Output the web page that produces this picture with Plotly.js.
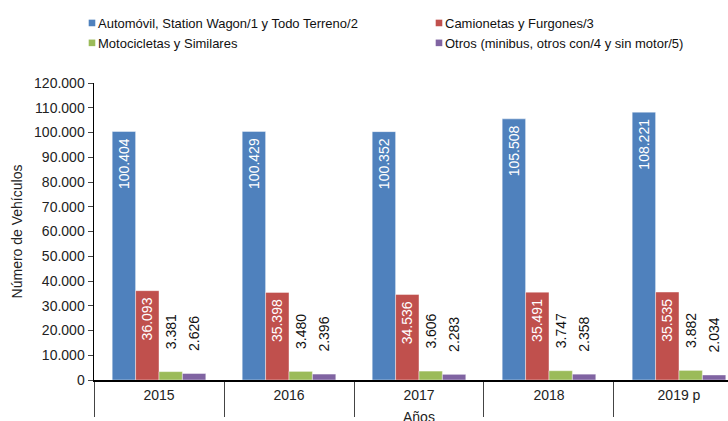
<!DOCTYPE html>
<html>
<head>
<meta charset="utf-8">
<script src="https://cdn.plot.ly/plotly-3.0.1.min.js"></script>
<style>html,body{margin:0;padding:0;background:#fff;}#chart{width:728px;height:421px;}</style>
</head>
<body>
<div id="chart"></div>
<script>
const years = ["2015", "2016", "2017", "2018", "2019 p"];
const seriesNames = [
  "Automóvil, Station Wagon/1 y Todo Terreno/2",
  "Camionetas y Furgones/3",
  "Motocicletas y Similares",
  "Otros (minibus, otros con/4 y sin motor/5)"
];
const xTitle = "Años";
const yTitle = "Número de Vehículos";
const autos = [100404, 100429, 100352, 105508, 108221];
const camionetas = [36093, 35398, 34536, 35491, 35535];
const motos = [3381, 3480, 3606, 3747, 3882];
const otros = [2626, 2396, 2283, 2358, 2034];
const colors = ["#4F81BD", "#C0504D", "#9BBB59", "#8064A2"];

const FONT = "Liberation Sans, Arial, sans-serif";
const pad = "\u00a0\u00a0\u00a0\u00a0\u00a0";

function bar(name, vals, color, inside, lw) {
  return {
    type: "bar", name: name, x: years, y: vals,
    marker: {color: color, line: {width: 0.6, color: "rgba(255,255,255,0.7)"}},
    texttemplate: inside ? "%{y:,}\u00a0" : pad + "%{y:,}",
    textposition: inside ? "inside" : "outside",
    insidetextanchor: "end",
    constraintext: "none",
    textangle: -90,
    cliponaxis: false,
    legendwidth: lw,
    textfont: {family: FONT, size: 14, color: inside ? "#ffffff" : "#111111"},
    hoverinfo: "skip"
  };
}

const data = [
  bar(seriesNames[0], autos, colors[0], true, 302),
  bar(seriesNames[1], camionetas, colors[1], true, 262),
  bar(seriesNames[2], motos, colors[2], false, 302),
  bar(seriesNames[3], otros, colors[3], false, 262)
];

const layout = {
  width: 728, height: 421,
  margin: {l: 94, r: 0, t: 83, b: 41},
  paper_bgcolor: "#fff", plot_bgcolor: "#fff",
  separators: ",.",
  font: {family: FONT, size: 14, color: "#222"},
  barmode: "group",
  bargap: 0.28, bargroupgap: 0,
  showlegend: true,
  legend: {
    orientation: "h", x: -0.0568, xanchor: "left", y: 1.2525, yanchor: "top",
    font: {family: FONT, size: 13, color: "#111"},
    traceorder: "normal"
  },
  annotations: [{
    text: xTitle, xref: "paper", yref: "paper", x: 0.5126, y: 0,
    xanchor: "center", yanchor: "middle", yshift: -37, showarrow: false,
    font: {family: FONT, size: 14, color: "#222"}
  }],
  xaxis: {
    type: "category",
    range: [-0.5, 4.377],
    showline: true, linecolor: "#000", linewidth: 1.5,
    ticks: "outside", tickson: "boundaries", ticklen: 35, tickcolor: "#444", tickwidth: 1,
    ticklabelstandoff: 2,
    tickfont: {family: FONT, size: 14, color: "#222"},
    showgrid: false, zeroline: false,
    automargin: false
  },
  yaxis: {
    range: [0, 120000], dtick: 10000, tickformat: ",d",
    showline: true, linecolor: "#000", linewidth: 1.5,
    ticks: "outside", ticklen: 5, tickcolor: "#444",
    tickfont: {family: FONT, size: 14, color: "#222"},
    showgrid: false, zeroline: false,
    automargin: false,
    title: {text: yTitle, font: {family: FONT, size: 14, color: "#222"}, standoff: 8}
  }
};

Plotly.newPlot("chart", data, layout, {displayModeBar: false, staticPlot: true}).then(function () {
  document.querySelectorAll("#chart .legend .legendpoints path").forEach(function (p) {
    p.setAttribute("transform", "translate(34,0) scale(0.55)");
    p.style.strokeWidth = "0";
  });
});
</script>
</body>
</html>
